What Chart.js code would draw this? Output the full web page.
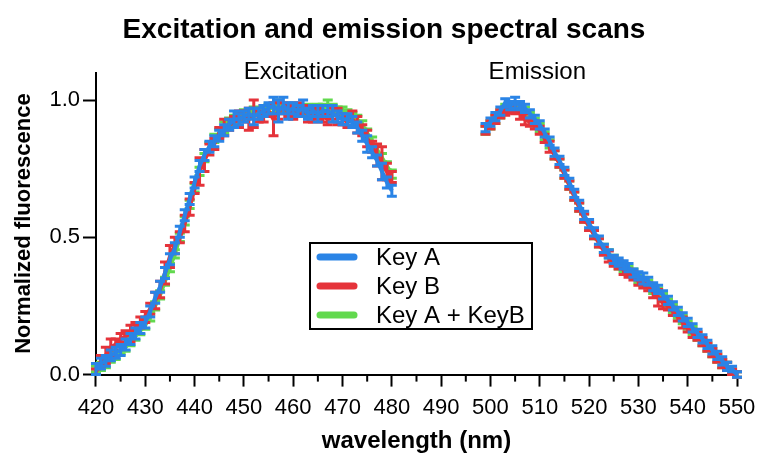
<!DOCTYPE html>
<html>
<head>
<meta charset="utf-8">
<script src="https://cdn.jsdelivr.net/npm/chart.js@4.4.0/dist/chart.umd.min.js"></script>
<style>
  html, body { margin: 0; padding: 0; background: #fff; }
  #wrap { width: 757px; height: 453px; position: relative; }
</style>
</head>
<body>
<div id="wrap"><canvas id="spectra"></canvas></div>
<script>
// wavelengths (nm)
var exWavelength = [420,421,422,423,424,425,426,427,428,429,430,431,432,433,434,435,436,437,438,439,
  440,441,442,443,444,445,446,447,448,449,450,451,452,453,454,455,456,457,458,459,
  460,461,462,463,464,465,466,467,468,469,470,471,472,473,474,475,476,477,478,479,480];
var emWavelength = [499,500,501,502,503,504,505,506,507,508,509,510,511,512,513,514,515,516,517,518,
  519,520,521,522,523,524,525,526,527,528,529,530,531,532,533,534,535,536,537,538,
  539,540,541,542,543,544,545,546,547,548,549,550];

// normalized fluorescence
var keyAEx = [0.02,0.04,0.05,0.07,0.08,0.09,0.11,0.13,0.15,0.17,0.19,0.23,0.28,0.32,0.37,0.42,0.46,0.52,0.58,0.64,
  0.70,0.76,0.80,0.83,0.85,0.87,0.89,0.91,0.93,0.93,0.94,0.95,0.94,0.95,0.96,0.97,0.98,0.96,0.98,0.96,
  0.97,0.96,0.97,0.95,0.96,0.95,0.96,0.96,0.95,0.94,0.93,0.93,0.92,0.90,0.87,0.84,0.81,0.78,0.74,0.70,0.67];
var keyBEx = [0.01,0.05,0.07,0.10,0.11,0.13,0.14,0.15,0.17,0.19,0.21,0.24,0.27,0.31,0.37,0.43,0.47,0.50,0.55,0.61,
  0.68,0.74,0.78,0.82,0.84,0.88,0.90,0.91,0.92,0.93,0.94,0.93,0.95,0.94,0.95,0.96,0.93,0.96,0.97,0.96,
  0.95,0.97,0.96,0.95,0.94,0.95,0.94,0.93,0.95,0.94,0.93,0.92,0.93,0.91,0.89,0.86,0.83,0.80,0.77,0.74,0.72];
var keyABEx = [0.02,0.03,0.04,0.06,0.07,0.09,0.10,0.12,0.14,0.16,0.18,0.21,0.25,0.29,0.34,0.39,0.44,0.50,0.56,0.62,
  0.68,0.74,0.79,0.83,0.86,0.88,0.90,0.92,0.93,0.94,0.95,0.95,0.96,0.95,0.96,0.97,0.97,0.98,0.97,0.97,
  0.97,0.96,0.96,0.97,0.96,0.97,0.97,0.98,0.97,0.96,0.96,0.95,0.94,0.93,0.91,0.88,0.85,0.82,0.79,0.76,0.73];

var keyAEm = [0.90,0.92,0.94,0.96,0.99,0.98,0.99,0.98,0.97,0.95,0.93,0.91,0.88,0.85,0.81,0.78,0.74,0.70,0.66,0.62,
  0.58,0.55,0.52,0.49,0.46,0.44,0.42,0.41,0.40,0.39,0.37,0.36,0.35,0.34,0.32,0.31,0.29,0.27,0.25,0.23,
  0.21,0.19,0.17,0.15,0.13,0.11,0.09,0.07,0.05,0.03,0.02,0.00];
var keyBEm = [0.89,0.91,0.93,0.95,0.96,0.97,0.97,0.95,0.93,0.92,0.91,0.89,0.86,0.83,0.80,0.77,0.73,0.69,0.65,0.61,
  0.57,0.54,0.51,0.48,0.45,0.43,0.41,0.40,0.38,0.37,0.36,0.34,0.33,0.32,0.30,0.28,0.26,0.25,0.23,0.21,
  0.19,0.17,0.15,0.14,0.12,0.10,0.08,0.06,0.04,0.03,0.01,0.00];
var keyABEm = [0.89,0.91,0.93,0.95,0.97,0.98,0.98,0.97,0.96,0.94,0.92,0.90,0.87,0.84,0.80,0.77,0.73,0.69,0.65,0.61,
  0.57,0.54,0.51,0.48,0.46,0.44,0.42,0.40,0.39,0.38,0.37,0.35,0.34,0.33,0.31,0.30,0.28,0.26,0.24,0.22,
  0.20,0.18,0.16,0.14,0.12,0.10,0.08,0.06,0.04,0.03,0.01,0.00];

// error bar half-heights
var keyAExErr = [0.02,0.02,0.02,0.02,0.02,0.02,0.02,0.02,0.02,0.02,0.02,0.02,0.02,0.02,0.02,0.02,0.02,0.02,0.02,0.02,
  0.02,0.02,0.02,0.02,0.02,0.02,0.02,0.02,0.03,0.02,0.02,0.02,0.03,0.02,0.02,0.02,0.03,0.04,0.03,0.03,
  0.02,0.02,0.03,0.02,0.02,0.03,0.02,0.02,0.03,0.02,0.02,0.02,0.02,0.02,0.02,0.03,0.02,0.02,0.03,0.02,0.02];
var keyBExErr = [0.01,0.02,0.03,0.03,0.02,0.02,0.02,0.03,0.02,0.02,0.02,0.02,0.03,0.03,0.04,0.04,0.03,0.02,0.03,0.03,
  0.02,0.05,0.04,0.02,0.02,0.02,0.03,0.02,0.02,0.03,0.02,0.04,0.05,0.02,0.03,0.02,0.06,0.03,0.02,0.02,
  0.02,0.02,0.02,0.03,0.02,0.02,0.02,0.02,0.02,0.03,0.02,0.02,0.03,0.03,0.02,0.03,0.02,0.04,0.06,0.03,0.02];
var keyABExErr = [0.01,0.015,0.015,0.015,0.015,0.015,0.015,0.015,0.015,0.015,0.015,0.015,0.015,0.015,0.015,0.015,0.015,0.015,0.015,0.015,
  0.015,0.015,0.015,0.015,0.015,0.015,0.02,0.015,0.015,0.015,0.015,0.015,0.015,0.02,0.015,0.015,0.015,0.02,0.015,0.015,
  0.015,0.015,0.015,0.015,0.015,0.015,0.015,0.02,0.015,0.015,0.015,0.015,0.015,0.015,0.015,0.015,0.015,0.015,0.015,0.015,0.015];
var keyAEmErr = [0.015,0.015,0.015,0.015,0.015,0.015,0.02,0.015,0.015,0.015,0.015,0.015,0.015,0.015,0.015,0.015,0.015,0.015,0.015,0.015,
  0.015,0.015,0.015,0.015,0.015,0.015,0.015,0.015,0.015,0.015,0.015,0.015,0.02,0.015,0.015,0.015,0.015,0.015,0.015,0.015,
  0.015,0.015,0.015,0.015,0.015,0.015,0.015,0.015,0.015,0.015,0.01,0.01];
var keyBEmErr = [0.015,0.015,0.015,0.015,0.015,0.015,0.02,0.02,0.02,0.015,0.015,0.015,0.015,0.02,0.015,0.015,0.015,0.015,0.015,0.015,
  0.015,0.015,0.015,0.015,0.015,0.02,0.015,0.015,0.015,0.015,0.015,0.015,0.015,0.015,0.02,0.03,0.02,0.015,0.015,0.015,
  0.02,0.015,0.015,0.015,0.015,0.015,0.015,0.015,0.015,0.015,0.01,0.01];
var keyABEmErr = [0.015,0.015,0.015,0.015,0.015,0.015,0.015,0.015,0.015,0.015,0.015,0.015,0.015,0.015,0.015,0.015,0.015,0.015,0.015,0.015,
  0.015,0.015,0.015,0.015,0.015,0.015,0.015,0.015,0.015,0.015,0.015,0.015,0.015,0.015,0.015,0.015,0.015,0.015,0.015,0.015,
  0.015,0.015,0.015,0.015,0.015,0.015,0.015,0.015,0.015,0.015,0.01,0.01];

var seriesLabels = ["Key A", "Key B", "Key A + KeyB"];
var seriesColors = ["#2a84e6", "#e5333a", "#62d94e"];
var xTicksMinor = [425,435,445,455,465,475,485,495,505,515,525,535,545];
var regionLabels = ["Excitation", "Emission"];
var regionCenters = [460.5, 509.5];

var FONT = "'Liberation Sans', Arial, Helvetica, sans-serif";

// join excitation + emission with a break point between them
function buildPoints(ex, em) {
    var pts = [];
    exWavelength.forEach(function (w, i) { pts.push({x: w, y: ex[i]}); });
    pts.push({x: 490, y: null});
    emWavelength.forEach(function (w, i) { pts.push({x: w, y: em[i]}); });
    return pts;
}
function buildErr(ex, em) {
    return ex.concat([0], em);
}

var errorBars = {
    id: 'errorBars',
    afterDatasetDraw: function (chart, args) {
        var ds = chart.data.datasets[args.index];
        if (!ds.errors) return;
        var xs = chart.scales.x, ys = chart.scales.y, ctx = chart.ctx;
        ctx.save();
        ctx.strokeStyle = ds.borderColor;
        ctx.lineWidth = 3;
        ds.data.forEach(function (p, i) {
            if (p.y === null) return;
            var e = ds.errors[i];
            var px = xs.getPixelForValue(p.x);
            var top = ys.getPixelForValue(p.y + e), bot = ys.getPixelForValue(p.y - e);
            ctx.beginPath();
            ctx.moveTo(px, top); ctx.lineTo(px, bot);
            ctx.moveTo(px - 5, top); ctx.lineTo(px + 5, top);
            ctx.moveTo(px - 5, bot); ctx.lineTo(px + 5, bot);
            ctx.stroke();
        });
        ctx.restore();
    }
};

var extras = {
    id: 'extras',
    afterDraw: function (chart) {
        var ctx = chart.ctx, xs = chart.scales.x, ys = chart.scales.y;
        var area = chart.chartArea;
        ctx.save();
        // minor ticks on x
        ctx.strokeStyle = '#000';
        ctx.lineWidth = 2;
        xTicksMinor.forEach(function (v) {
            var px = xs.getPixelForValue(v);
            ctx.beginPath();
            ctx.moveTo(px, area.bottom);
            ctx.lineTo(px, area.bottom + 7);
            ctx.stroke();
        });
        // region labels
        ctx.fillStyle = '#000';
        ctx.font = '24px ' + FONT;
        ctx.textAlign = 'center';
        ctx.textBaseline = 'middle';
        regionLabels.forEach(function (t, i) {
            ctx.fillText(t, xs.getPixelForValue(regionCenters[i]), ys.getPixelForValue(1.1));
        });
        // boxed legend
        var bx = 310, by = 243, bw = 222, bh = 86;
        ctx.fillStyle = '#fff';
        ctx.fillRect(bx, by, bw, bh);
        ctx.lineWidth = 2;
        ctx.strokeStyle = '#000';
        ctx.strokeRect(bx, by, bw, bh);
        ctx.textAlign = 'left';
        chart.data.datasets.forEach(function (ds, i) {
            var ry = by + 14 + i * 29;
            ctx.strokeStyle = ds.borderColor;
            ctx.lineWidth = 7;
            ctx.lineCap = 'round';
            ctx.beginPath();
            ctx.moveTo(bx + 10, ry);
            ctx.lineTo(bx + 44, ry);
            ctx.stroke();
            ctx.fillStyle = '#000';
            ctx.fillText(ds.label, bx + 66, ry + 1);
        });
        ctx.restore();
    }
};

Chart.defaults.color = '#000';
Chart.defaults.font.family = FONT;

var ctx = document.getElementById("spectra");
var chart = new Chart(ctx, {
    type: "line",
    data: {
        datasets: [
            {label: seriesLabels[0], data: buildPoints(keyAEx, keyAEm), errors: buildErr(keyAExErr, keyAEmErr),
             borderColor: seriesColors[0], backgroundColor: seriesColors[0]},
            {label: seriesLabels[1], data: buildPoints(keyBEx, keyBEm), errors: buildErr(keyBExErr, keyBEmErr),
             borderColor: seriesColors[1], backgroundColor: seriesColors[1]},
            {label: seriesLabels[2], data: buildPoints(keyABEx, keyABEm), errors: buildErr(keyABExErr, keyABEmErr),
             borderColor: seriesColors[2], backgroundColor: seriesColors[2]}
        ]
    },
    options: {
        responsive: true,
        maintainAspectRatio: false,
        animation: false,
        spanGaps: false,
        elements: {
            point: {radius: 0},
            line: {borderWidth: 4, tension: 0}
        },
        datasets: {line: {clip: false}},
        layout: {padding: {left: 11, right: 0, top: 0, bottom: 0}},
        plugins: {
            legend: {display: false},
            tooltip: {enabled: false},
            title: {
                display: true,
                text: "Excitation and emission spectral scans",
                font: {size: 28, weight: 'bold'},
                color: '#000',
                padding: {top: 13, bottom: 26}
            }
        },
        scales: {
            x: {
                type: 'linear',
                min: 420,
                max: 550,
                afterFit: function (scale) { scale.paddingRight = 20; scale.paddingLeft = 0; },
                ticks: {stepSize: 10, font: {size: 22}, padding: 8, maxRotation: 0, autoSkip: false,
                        callback: function (v) { return String(v); }},
                grid: {drawOnChartArea: false, tickLength: 12, tickWidth: 2, tickColor: '#000'},
                border: {display: true, color: '#000', width: 2},
                title: {display: true, text: 'wavelength (nm)', font: {size: 24, weight: 'bold', lineHeight: 1},
                        padding: {top: 0, bottom: 0}}
            },
            y: {
                min: 0,
                max: 1.1,
                ticks: {stepSize: 0.5, includeBounds: false, font: {size: 22}, padding: 3,
                        callback: function (v) { return Number(v).toFixed(1); }},
                grid: {drawOnChartArea: false, tickLength: 13, tickWidth: 2, tickColor: '#000'},
                border: {display: true, color: '#000', width: 2},
                title: {display: true, text: 'Normalized fluorescence', font: {size: 22, weight: 'bold'},
                        padding: {top: 0, bottom: 9}}
            }
        }
    },
    plugins: [errorBars, extras]
});
</script>
</body>
</html>
